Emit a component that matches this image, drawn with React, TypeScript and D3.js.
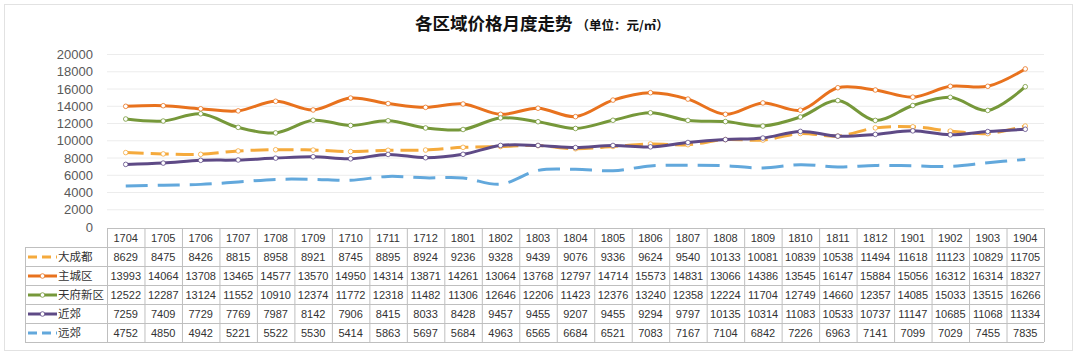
import React from 'react';
import * as d3 from 'd3';

const months = ['1704','1705','1706','1707','1708','1709','1710','1711','1712','1801','1802','1803','1804','1805','1806','1807','1808','1809','1810','1811','1812','1901','1902','1903','1904'];
const seriesNames = ['大成都', '主城区', '天府新区', '近郊', '远郊'];
const dachengdu = [8629,8475,8426,8815,8958,8921,8745,8895,8924,9236,9328,9439,9076,9336,9624,9540,10133,10081,10839,10538,11494,11618,11123,10829,11705];
const zhucheng = [13993,14064,13708,13465,14577,13570,14950,14314,13871,14261,13064,13768,12797,14714,15573,14831,13066,14386,13545,16147,15884,15056,16312,16314,18327];
const tianfu = [12522,12287,13124,11552,10910,12374,11772,12318,11482,11306,12646,12206,11423,12376,13240,12358,12224,11704,12749,14660,12357,14085,15033,13515,16266];
const jinjiao = [7259,7409,7729,7769,7987,8142,7906,8415,8033,8428,9457,9455,9207,9455,9294,9797,10135,10314,11083,10533,10737,11147,10685,11068,11334];
const yuanjiao = [4752,4850,4942,5221,5522,5530,5414,5863,5697,5684,4963,6565,6684,6521,7083,7167,7104,6842,7226,6963,7141,7099,7029,7455,7835];
const yTicks = [0, 2000, 4000, 6000, 8000, 10000, 12000, 14000, 16000, 18000, 20000];

const seriesValues = [dachengdu, zhucheng, tianfu, jinjiao, yuanjiao];
const colors = ['#F5AA3C', '#E8721E', '#76983A', '#5E4A86', '#62A8DC'];
const dashes = ['18 7', null, null, null, '22 10'];
const markers = [true, true, true, true, false];

const W = 1080, H = 355;
const tableLeft = 25, colStart = 107, colEnd = 1044;
const rowTop = 228, headerH = 19, rowH = 19;
const font = '"Liberation Sans", Arial, sans-serif';

export default function App() {
  const x = d3.scaleBand<string>().domain(months).range([colStart, colEnd]);
  const cx = (m: string) => (x(m) as number) + x.bandwidth() / 2;
  const y = d3.scaleLinear().domain([0, 20000]).range([227, 54.5]);
  const line = d3.line<number>()
    .x((_, i) => cx(months[i]))
    .y(d => y(d))
    .curve(d3.curveCatmullRom.alpha(0.5));

  const tableBottom = rowTop + headerH + rowH * seriesNames.length;

  return (
    <svg width={W} height={H} style={{ position: 'absolute', left: 0, top: 0, background: '#fff' }}>
      <rect x={4.5} y={4.5} width={1068} height={346} fill="#fff" stroke="#e2e2e2" />
      <text x={415} y={30} fontFamily='"Noto Sans CJK SC", sans-serif' fontWeight="bold" fontSize={17.5} fill="#111">
        各区域价格月度走势
        <tspan fontSize={12.5} dx={4}>（单位：元/㎡）</tspan>
      </text>
      {/* gridlines */}
      {yTicks.filter(t => t > 0).map(t => (
        <line key={t} x1={colStart} x2={colEnd} y1={y(t)} y2={y(t)} stroke="#ececec" strokeWidth={1} />
      ))}
      {/* y labels */}
      {yTicks.map(t => (
        <text key={t} x={93} y={y(t)} dy="0.35em" textAnchor="end" fontFamily={font} fontSize={13} fill="#595959">{t}</text>
      ))}
      {/* lines */}
      {seriesValues.map((vals, si) => (
        <g key={si}>
          <path d={line(vals) as string} fill="none" stroke={colors[si]} strokeWidth={3}
            strokeDasharray={dashes[si] ?? undefined} strokeLinecap="butt" />
          {markers[si] && vals.map((v, i) => (
            <circle key={i} cx={cx(months[i])} cy={y(v)} r={2.3} fill="#fff" stroke={colors[si]} strokeWidth={0.8} />
          ))}
        </g>
      ))}
      {/* table */}
      <g fontFamily={font} fontSize={11} fill="#333">
        {months.map(m => (
          <text key={m} x={cx(m)} y={rowTop + headerH / 2 + 1} dy="0.35em" textAnchor="middle">{m}</text>
        ))}
        <line x1={colStart} x2={colEnd} y1={rowTop + 0.5} y2={rowTop + 0.5} stroke="#bfbfbf" />
        {d3.range(seriesNames.length + 1).map(i => (
          <line key={i} x1={tableLeft} x2={colEnd} y1={rowTop + headerH + i * rowH + 0.5} y2={rowTop + headerH + i * rowH + 0.5} stroke="#bfbfbf" />
        ))}
        <line x1={tableLeft + 0.5} x2={tableLeft + 0.5} y1={rowTop + headerH} y2={tableBottom} stroke="#bfbfbf" />
        {months.map(m => (
          <line key={m} x1={(x(m) as number) + 0.5} x2={(x(m) as number) + 0.5} y1={rowTop} y2={tableBottom} stroke="#bfbfbf" />
        ))}
        <line x1={colEnd + 0.5} x2={colEnd + 0.5} y1={rowTop} y2={tableBottom} stroke="#bfbfbf" />
        {seriesNames.map((name, si) => {
          const yc = rowTop + headerH + si * rowH + rowH / 2 + 0.5;
          return (
            <g key={name}>
              <line x1={28} x2={57} y1={yc} y2={yc} stroke={colors[si]} strokeWidth={3}
                strokeDasharray={si === 0 || si === 4 ? '9 5' : undefined} />
              {markers[si] && si !== 0 && <circle cx={42.5} cy={yc} r={2.3} fill="#fff" stroke={colors[si]} strokeWidth={0.8} />}
              <text x={58} y={yc} dy="0.35em" fontFamily='"Noto Sans CJK SC", sans-serif' fontSize={11.5} fill="#333">{name}</text>
              {seriesValues[si].map((v, i) => (
                <text key={i} x={cx(months[i])} y={yc + 0.5} dy="0.35em" textAnchor="middle">{v}</text>
              ))}
            </g>
          );
        })}
      </g>
    </svg>
  );
}
